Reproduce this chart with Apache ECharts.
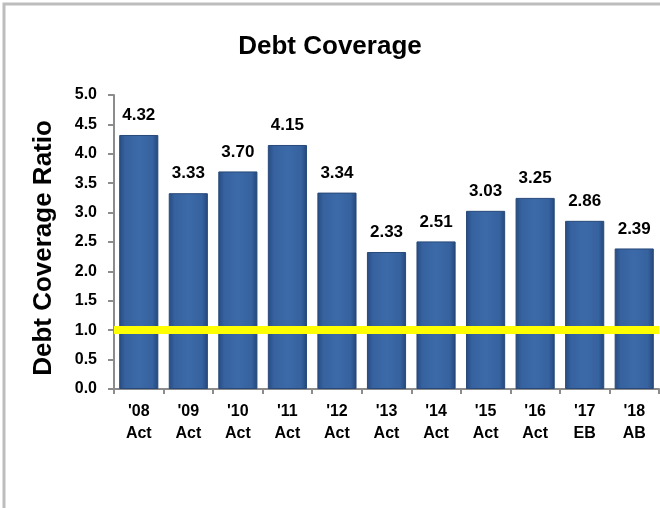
<!DOCTYPE html>
<html>
<head>
<meta charset="utf-8">
<script src="https://cdn.jsdelivr.net/npm/echarts@6/dist/echarts.min.js"></script>
<style>
  html, body { margin: 0; padding: 0; background: #fff; }
  #main { width: 660px; height: 508px; }
</style>
</head>
<body>
<div id="main"></div>
<script>
var years = ["'08", "'09", "'10", "'11", "'12", "'13", "'14", "'15", "'16", "'17", "'18"];
var kinds = ['Act', 'Act', 'Act', 'Act', 'Act', 'Act', 'Act', 'Act', 'Act', 'EB', 'AB'];
var ratios = [4.32, 3.33, 3.70, 4.15, 3.34, 2.33, 2.51, 3.03, 3.25, 2.86, 2.39];
var threshold = 1.0;

var categories = years.map(function (y, i) { return y + '\n' + kinds[i]; });

var chartDom = document.getElementById('main');
var myChart = echarts.init(chartDom, null, { renderer: 'canvas' });
var font = '"Liberation Sans", Arial, sans-serif';

var option = {
  animation: false,
  backgroundColor: '#fff',
  textStyle: { fontFamily: font },
  graphic: [
    {
      type: 'rect',
      shape: { x: 4, y: 4, width: 720, height: 560 },
      style: { fill: 'none', stroke: '#bdbdbd', lineWidth: 3 }
    }
  ],
  title: {
    text: 'Debt Coverage',
    left: 'center',
    top: 29,
    textStyle: { fontFamily: font, fontWeight: 'bold', fontSize: 26, color: '#000' }
  },
  grid: { left: 114, right: 1, top: 95, bottom: 119 },
  xAxis: {
    type: 'category',
    data: categories,
    axisLine: { lineStyle: { color: '#8c8c8c', width: 2 } },
    axisTick: { show: true, length: 5, lineStyle: { color: '#8c8c8c', width: 2 } },
    axisLabel: {
      interval: 0,
      margin: 12,
      color: '#000',
      fontWeight: 'bold',
      fontSize: 16,
      lineHeight: 22,
      fontFamily: font
    }
  },
  yAxis: {
    type: 'value',
    min: 0,
    max: 5,
    interval: 0.5,
    name: 'Debt Coverage Ratio',
    nameLocation: 'middle',
    nameGap: 57,
    nameTextStyle: { fontFamily: font, fontWeight: 'bold', fontSize: 26, color: '#000', padding: [0, 12, 0, 0] },
    axisLine: { show: true, lineStyle: { color: '#8c8c8c', width: 2 } },
    axisTick: { show: true, length: 6, lineStyle: { color: '#8c8c8c', width: 2 } },
    splitLine: { show: false },
    axisLabel: {
      margin: 17,
      color: '#000',
      fontWeight: 'bold',
      fontSize: 16,
      fontFamily: font,
      formatter: function (v) { return v.toFixed(1); }
    }
  },
  series: [
    {
      name: 'Debt Coverage',
      type: 'bar',
      data: ratios,
      barCategoryGap: '21%',
      itemStyle: {
        color: new echarts.graphic.LinearGradient(0, 0, 1, 0, [
          { offset: 0, color: '#274b80' },
          { offset: 0.15, color: '#36629f' },
          { offset: 0.5, color: '#3c6aa8' },
          { offset: 0.85, color: '#36629f' },
          { offset: 1, color: '#24477a' }
        ]),
        borderColor: '#28497a',
        borderWidth: 1
      },
      label: {
        show: true,
        position: 'top',
        distance: 11,
        color: '#000',
        fontWeight: 'bold',
        fontSize: 17,
        fontFamily: font,
        formatter: function (p) { return p.value.toFixed(2); }
      },
      markLine: {
        silent: true,
        symbol: 'none',
        label: { show: false },
        lineStyle: { color: '#ffff00', width: 8, type: 'solid' },
        data: [{ yAxis: threshold }]
      }
    }
  ]
};

option && myChart.setOption(option);
</script>
</body>
</html>
